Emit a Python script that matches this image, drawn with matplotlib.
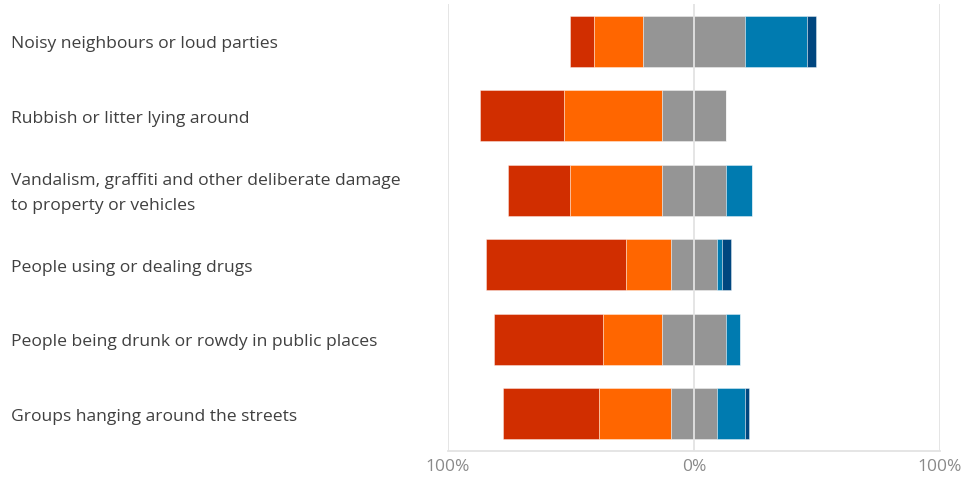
import numpy as np
import matplotlib.pyplot as plt

plt.rcParams['font.family'] = ['Open Sans', 'DejaVu Sans']

# Survey answers per issue, in percent
issues = [
    "Noisy neighbours or loud parties",
    "Rubbish or litter lying around",
    "Vandalism, graffiti and other deliberate damage\nto property or vehicles",
    "People using or dealing drugs",
    "People being drunk or rowdy in public places",
    "Groups hanging around the streets",
]
very_big = [9.5, 34.1, 25.3, 56.9, 44.3, 39.1]
fairly_big = [20.2, 40.0, 37.4, 18.4, 24.3, 29.3]
not_very_big = [41.1, 25.7, 25.7, 18.8, 25.7, 18.9]
not_at_all = [25.4, 0.0, 10.9, 2.1, 5.9, 11.4]
no_opinion = [3.8, 0.0, 0.0, 3.7, 0.0, 1.3]

colors = ['#D12E00', '#FF6600', '#959595', '#007BB0', '#00467F']

fig = plt.figure(figsize=(9.66, 4.81), dpi=100)
ax = fig.add_axes([0.4638, 0.0603, 0.5093, 0.9293])

y = np.arange(len(issues))
series = [np.array(s) for s in (very_big, fairly_big, not_very_big, not_at_all, no_opinion)]

# bars are centred on the middle of the neutral ("not very big") share
lefts = -(series[0] + series[1] + series[2] / 2)
for vals, c in zip(series, colors):
    ax.barh(y, vals, left=lefts, height=0.685, color=c, zorder=2,
            edgecolor=(1, 1, 1, 0.45), linewidth=0.6)
    lefts = lefts + vals

for xv in (-100, 0, 100):
    ax.axvline(xv, color='#e3e3e3', linewidth=1.3, zorder=3 if xv == 0 else 1)

ax.set_xlim(-100, 100)
ax.set_ylim(len(issues) - 0.5, -0.5)
ax.set_xticks([-100, 0, 100])
ax.set_xticklabels(['100%', '0%', '100%'], color='#8a8a8a', fontsize=12.5)
ax.tick_params(axis='x', length=0, pad=5)
ax.set_yticks([])

for s in ['top', 'right', 'left']:
    ax.spines[s].set_visible(False)
ax.spines['bottom'].set_color('#e3e3e3')
ax.spines['bottom'].set_linewidth(1.3)

# category labels, left aligned at the figure edge
for i, lab in enumerate(issues):
    ypix = ax.transData.transform((0, i))[1] - 2
    yfig = fig.transFigure.inverted().transform((0, ypix))[1]
    fig.text(0.011, yfig, lab, ha='left', va='center', fontsize=12.6,
             color='#404040', linespacing=1.75)

fig.savefig('out.png', dpi=100)
